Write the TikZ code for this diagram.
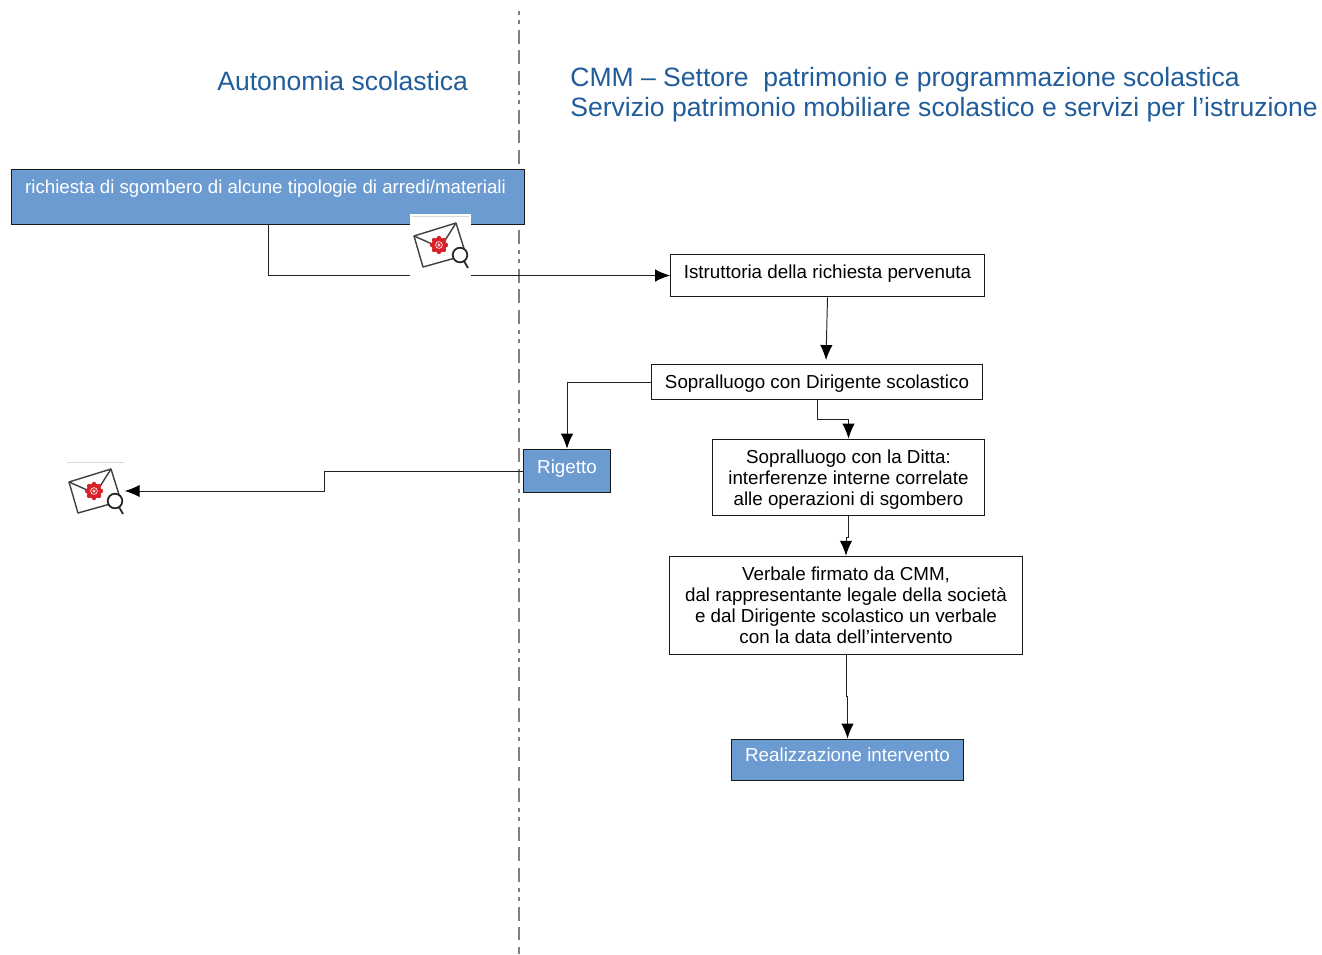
\documentclass[tikz,border=0pt]{standalone}
\usepackage{fontspec}
\setmainfont{Liberation Sans}
\usepackage{tikz}
\usetikzlibrary{arrows.meta}
\definecolor{boxblue}{HTML}{6C9BD2}
\definecolor{titleblue}{HTML}{1F5C99}
\definecolor{sealred}{HTML}{D8222A}
\definecolor{linkgray}{HTML}{222222}
\tikzset{
  whitebox/.style={draw=black!90,line width=.55pt,fill=white,inner sep=0pt,align=center,
    font=\fontsize{10.7}{12}\selectfont},
  bluebox/.style={draw=black!90,line width=.55pt,fill=boxblue,inner sep=0pt,text=white,
    font=\fontsize{10.7}{12}\selectfont},
  titletext/.style={text=titleblue,inner sep=0pt,align=left,
    font=\fontsize{15.1}{17}\selectfont},
  link/.style={draw=linkgray,line width=.55pt,-{Latex[length=8.5pt,width=7pt,black]}},
  mailbox/.style={fill=white,inner sep=0pt,minimum width=34.6pt,minimum height=36.3pt},
}
% envelope with seal and lens, #1 is the centre of the seal
\newcommand{\mailicon}[1]{
  \begin{scope}[shift={(#1)}]
    \draw[black!75,line width=.8pt,line join=round] (-25,-9) -- (17,-22) -- (27,10) -- (-16,22) -- cycle;
    \draw[black!75,line width=.8pt] (-25,-9) -- (0,2) (17,-22) -- (5,-3);
    \foreach \a in {0,45,...,315}{ \fill[sealred] (\a:7) circle (2.2); }
    \fill[sealred] (0,0) circle (7.5);
    \draw[white,line width=.35pt] (0,0) circle (3.4) (0,0) circle (1.2);
    \draw[black!85,line width=1pt] (25,16) -- (29,23);
    \draw[black!85,line width=1pt,fill=white] (21,10) circle (7.3);
    \draw[black!15,line width=.4pt] (-27,-29) -- (30,-29);
  \end{scope}
}
\begin{document}
\begin{tikzpicture}[x=.02cm,y=-.02cm]
  \useasboundingbox (0,0) rectangle (1322,954);
  \draw[black!50,line width=1pt,dash pattern=on 2.27pt off 2.83pt on 2.27pt off 3.4pt on 7.94pt off 3.4pt on 7.94pt off 3.97pt on 7.94pt off 3.4pt] (519,11) -- (519,954);
  \node[titletext,anchor=base west] (autonomia) at (217,90) {Autonomia scolastica};
  \node[titletext,anchor=north west] (cmm) at (570,67) {CMM – Settore\ \ patrimonio e programmazione scolastica\\Servizio patrimonio mobiliare scolastico e servizi per l’istruzione};

  \node[bluebox,font=\fontsize{10.63}{12}\selectfont,minimum width=292.5pt,text height=13.6pt,text depth=18.1pt] (richiesta) at (268,197) {richiesta di sgombero di alcune tipologie di arredi/materiali\kern2.8pt};
  \node[whitebox,minimum width=178.6pt,minimum height=24.4pt,text height=11.14pt,text depth=8pt] (istruttoria) at (827.5,275.5) {Istruttoria della richiesta pervenuta};
  \node[whitebox,minimum width=188.2pt,minimum height=20.4pt,text height=10pt,text depth=2.24pt] (dirigente) at (817,382) {Sopralluogo con Dirigente scolastico};
  \node[bluebox,minimum width=49.9pt,minimum height=24.9pt,text height=10.24pt,text depth=7pt] (rigetto) at (567,471) {Rigetto};
  \node[whitebox,minimum width=154.8pt,minimum height=43.7pt] (ditta) at (848.5,477.5) {\rule{0pt}{10pt}Sopralluogo con la Ditta:\\interferenze interne correlate\\alle operazioni di sgombero};
  \node[whitebox,minimum width=200.7pt,minimum height=56.1pt] (verbale) at (846,605.5) {Verbale firmato da CMM,\\dal rappresentante legale della società\\e dal Dirigente scolastico un verbale\\con la data dell’intervento};
  \node[bluebox,minimum width=132.1pt,minimum height=23.8pt,text height=11pt,text depth=9.44pt] (intervento) at (847.5,760) {Realizzazione intervento};
  \coordinate (dirigentein) at (826,360);

  \path[link] (richiesta.south) |- (istruttoria.west);
  \path[link] (istruttoria.south) -- (dirigentein);
  \path[link] (dirigente.west) -| (rigetto.north);
  \path[link] (dirigente.south) -- ++(0,19) -| (ditta.north);
  \path[link] (ditta.south) -- ++(0,21) -| (verbale.north);
  \path[link] (verbale.south) -- ++(0,41) -| (intervento.north);

  \node[mailbox] (maila) at (440.5,246) {};
  \node[mailbox] (mailb) at (94,491) {};
  \mailicon{439,245}
  \mailicon{94,491}
  \path[link] (rigetto.west) -- ++(-198,0) |- (mailb.east);
\end{tikzpicture}
\end{document}
